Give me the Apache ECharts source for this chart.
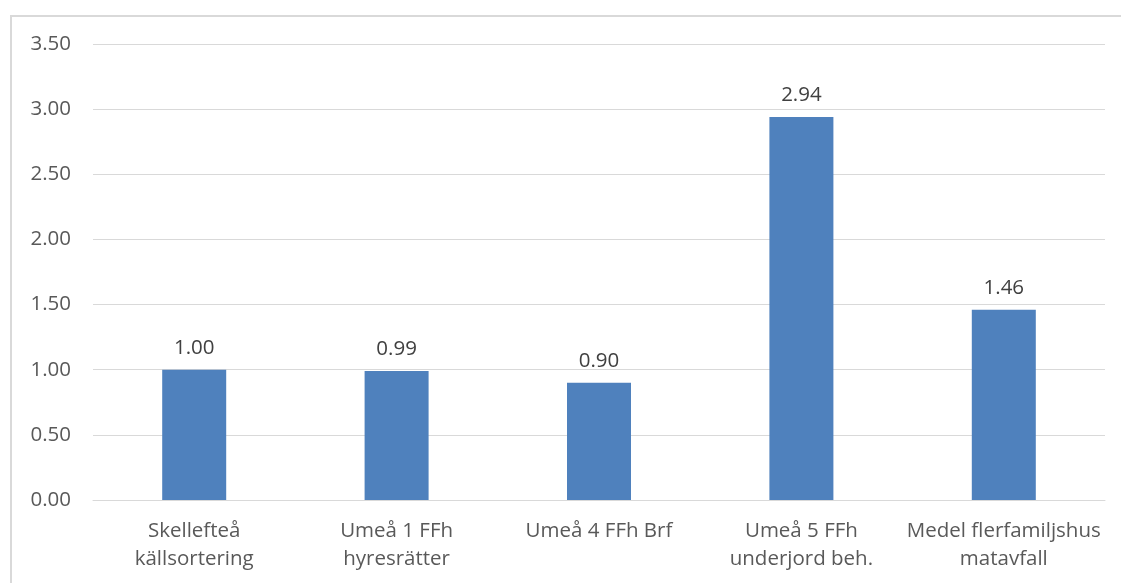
<!DOCTYPE html>
<html><head><meta charset="utf-8">
<script src="https://cdn.jsdelivr.net/npm/echarts@6/dist/echarts.min.js"></script>
<style>
html,body{margin:0;padding:0;background:#fff;}
#frame{position:absolute;left:10px;top:15px;width:1200px;height:700px;border-left:2px solid #d9d9d9;border-top:2px solid #d9d9d9;}
#c{position:absolute;left:0;top:0;width:1121px;height:583px;}
</style></head>
<body>
<div id="frame"></div>
<div id="c"></div>
<script>
const categories = ["Skellefteå\nkällsortering", "Umeå 1 FFh\nhyresrätter", "Umeå 4 FFh Brf", "Umeå 5 FFh\nunderjord beh.", "Medel flerfamiljshus\nmatavfall"];
const values = [1.00, 0.99, 0.90, 2.94, 1.46];

const chart = echarts.init(document.getElementById('c'));
const font = "'Open Sans', 'Liberation Sans', sans-serif";
chart.setOption({
  animation: false,
  grid: {left: 93, right: 16, top: 44, bottom: 83, containLabel: false},
  xAxis: {
    type: 'category', data: categories,
    axisLine: {show: true, lineStyle: {color: '#d9d9d9', width: 1}},
    axisTick: {show: false},
    axisLabel: {color: '#595959', fontSize: 20.5, fontFamily: font, margin: 17, lineHeight: 28, interval: 0}
  },
  yAxis: {
    type: 'value', min: 0, max: 3.5, interval: 0.5,
    axisLine: {show: false}, axisTick: {show: false},
    splitLine: {lineStyle: {color: '#d9d9d9', width: 1}},
    axisLabel: {color: '#595959', fontSize: 20.5, fontFamily: font, margin: 22, formatter: v => v.toFixed(2)}
  },
  series: [{
    type: 'bar', data: values, barWidth: 64,
    itemStyle: {color: '#4f81bd'},
    label: {show: true, position: 'top', distance: 11, color: '#404040', fontSize: 20.5, fontFamily: font, formatter: p => p.value.toFixed(2)}
  }]
});
</script>
</body></html>
